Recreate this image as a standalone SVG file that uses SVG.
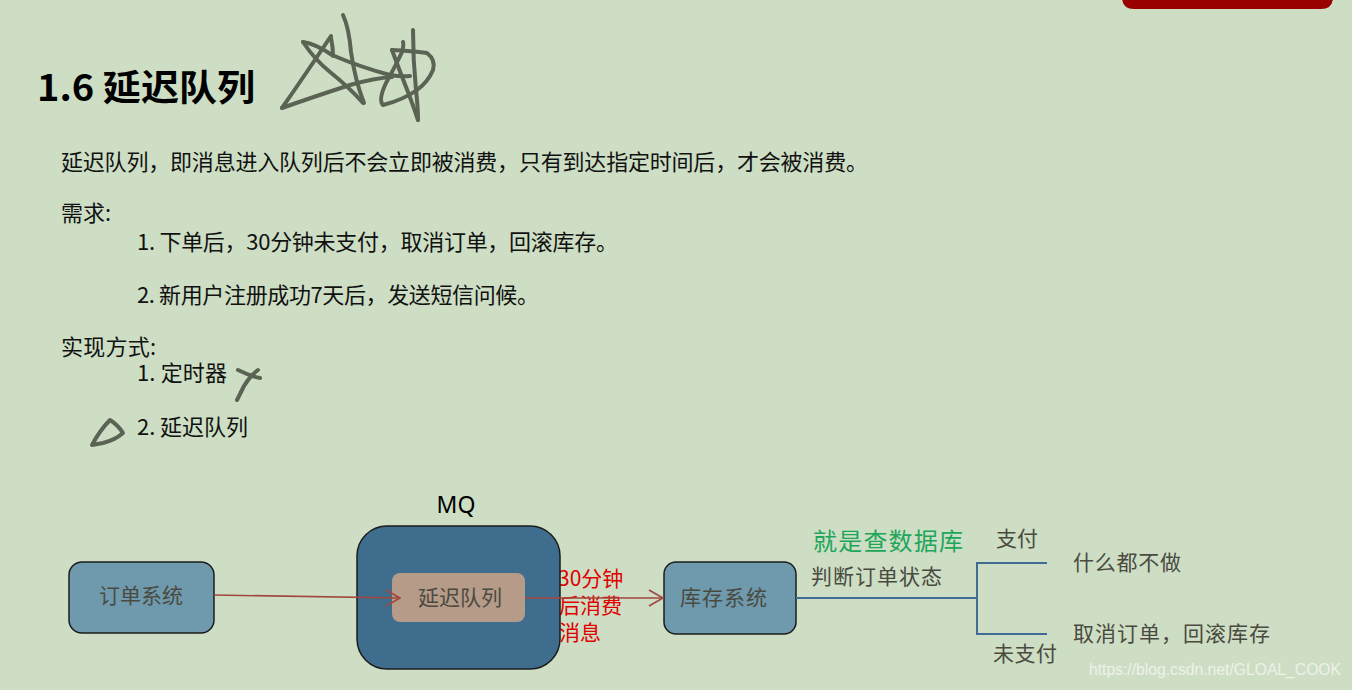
<svg xmlns="http://www.w3.org/2000/svg" width="1352" height="690" viewBox="0 0 1352 690">
<defs>
<style>
.cjk{font-family:"Noto Sans CJK SC","Noto Sans",sans-serif;}
.body{font-size:22px;fill:#111;}
.lbl{font-size:21px;fill:#4a4a40;}
.box{stroke:#1c1c1c;stroke-width:1.5;}
.ink{fill:none;stroke:#5a6354;stroke-width:4;stroke-linecap:round;stroke-linejoin:round;}
.arr{fill:none;stroke:#a3463d;stroke-width:1.6;}
.br{fill:none;stroke:#3f6b94;stroke-width:2;}
.red{font-size:21px;fill:#e00000;}
</style>
</defs>
<rect x="0" y="0" width="1352" height="690" fill="#cddec4"/>
<path d="M1122,-5 H1333 V-3 Q1333,9 1321,9 H1134 Q1122,9 1122,-3 Z" fill="#990000"/>

<g id="title">
<text class="cjk" x="37" y="101" font-size="36" font-weight="bold" fill="#000" textLength="218" lengthAdjust="spacingAndGlyphs">1.6 延迟队列</text>
</g>
<g id="doodles">
<path class="ink" d="M343,15 Q349,28 351,52 Q355,80 364,103"/>
<path class="ink" d="M282,108 Q305,75 331,36"/>
<path class="ink" d="M331,38 Q333,47 333,56"/>
<path class="ink" d="M303,42 Q316,44 332,55 Q360,67 390,75 Q402,77 410,76"/>
<path class="ink" d="M282,108 Q310,98 350,85 Q375,78 392,77"/>
<path class="ink" d="M303,42 Q315,60 330,72 Q350,88 363,103"/>
<path class="ink" d="M413,30 Q413,60 416,90 Q418,108 418,120"/>
<path class="ink" d="M392,50 Q412,51 427,53 Q436,60 433,70 Q428,82 417,90 Q403,100 383,105 Q378,100 386,83 Q396,65 402,52 Q404,45 403,42"/>
<path class="ink" d="M392,50 Q400,72 408,92 Q414,108 418,120"/>
<path class="ink" d="M238,370 Q250,376 260,378"/>
<path class="ink" d="M258,370 Q250,376 244,386 Q240,394 237,400"/>
<path class="ink" d="M92,445 Q100,430 110,420 Q118,425 123,433 Q115,440 103,443 Z"/>
</g>

<g id="intro">
<text class="cjk body" x="61" y="170" textLength="807">延迟队列，即消息进入队列后不会立即被消费，只有到达指定时间后，才会被消费。</text>
<text class="cjk body" x="61" y="221" textLength="50">需求:</text>
<text class="cjk body" x="137" y="250" textLength="481">1. 下单后，30分钟未支付，取消订单，回滚库存。</text>
<text class="cjk body" x="137" y="303" textLength="402">2. 新用户注册成功7天后，发送短信问候。</text>
<text class="cjk body" x="61" y="355" textLength="95">实现方式:</text>
<text class="cjk body" x="137" y="381" textLength="90">1. 定时器</text>
<text class="cjk body" x="137" y="435" textLength="111">2. 延迟队列</text>
</g>

<g id="delay-label">
<text class="cjk red" x="558" y="586">30分钟</text>
<text class="cjk red" x="559" y="613">后消费</text>
<text class="cjk red" x="559" y="640">消息</text>
</g>

<g id="order-system">
<rect class="box" x="69" y="562" width="145" height="71" rx="13" fill="#6f9aae"/>
<text class="cjk lbl" x="141" y="603" text-anchor="middle">订单系统</text>
</g>

<g id="mq">
<text x="456" y="513" font-family="'Noto Sans',sans-serif" font-size="23" fill="#000" text-anchor="middle">MQ</text>
<rect class="box" x="357" y="526" width="203" height="143" rx="30" fill="#3e6d8e"/>
</g>
<g id="delay-queue">
<rect x="392" y="573" width="133" height="49" rx="8" fill="#b59b88"/>
<text class="cjk lbl" x="460" y="605" text-anchor="middle" font-size="22">延迟队列</text>
</g>

<g id="stock-system">
<rect class="box" x="664" y="562" width="132" height="72" rx="12" fill="#6f9aae"/>
<text class="cjk lbl" x="680" y="605" font-size="22" textLength="87">库存系统</text>
</g>

<g id="labels">
<text class="cjk" x="813" y="550" font-size="24" fill="#20a65a" textLength="150">就是查数据库</text>
<text class="cjk lbl" x="811" y="584" textLength="131">判断订单状态</text>
<text class="cjk lbl" x="996" y="546" textLength="42">支付</text>
<text class="cjk lbl" x="993" y="661" textLength="64">未支付</text>
</g>
<g id="outcome-paid">
<text class="cjk lbl" x="1073" y="570" textLength="108">什么都不做</text>
</g>
<g id="outcome-unpaid">
<text class="cjk lbl" x="1073" y="641" textLength="197">取消订单，回滚库存</text>
</g>

<g id="connectors">
<path class="arr" d="M214,595 L400,598"/>
<path class="arr" d="M386,590 L400,598 L386,606"/>
<path class="arr" d="M525,598 L663,598"/>
<path class="arr" d="M649,590 L663,598 L649,606"/>
<path class="br" d="M796,598 H978"/>
<path class="br" d="M1047,563 H977 V634 H1047"/>
</g>

<text x="1089" y="675" font-family="'Liberation Sans',Arial,sans-serif" font-size="16" fill="#edf2e9" textLength="252" lengthAdjust="spacingAndGlyphs">https://blog.csdn.net/GLOAL_COOK</text>
</svg>
